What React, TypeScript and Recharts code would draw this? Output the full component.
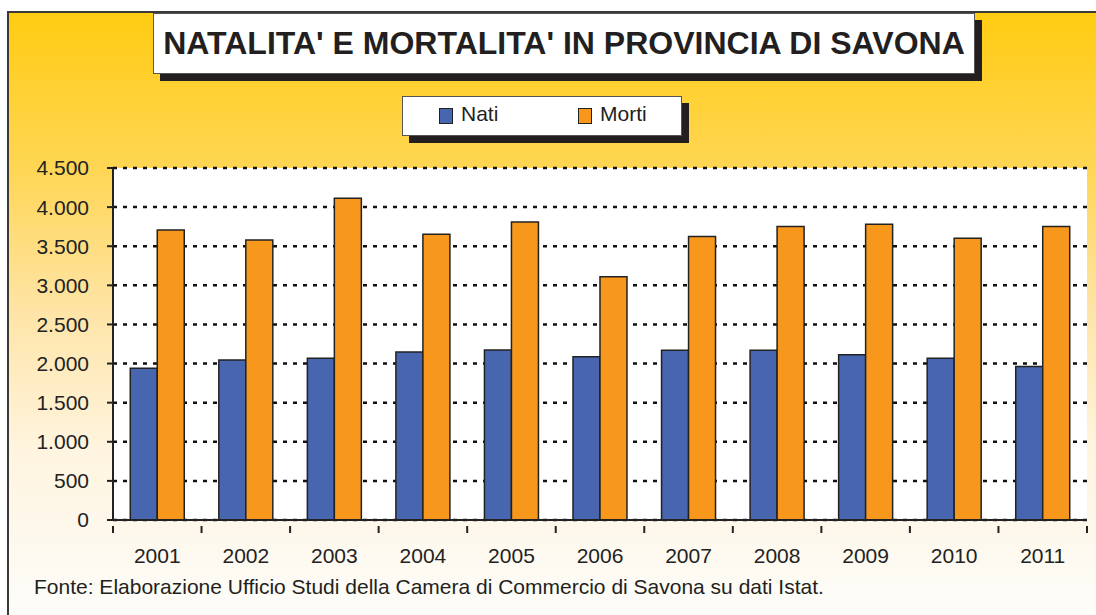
import React from "react";
import { BarChart, Bar, XAxis, YAxis, CartesianGrid } from "recharts";

const years = ["2001", "2002", "2003", "2004", "2005", "2006", "2007", "2008", "2009", "2010", "2011"];
const nati = [1940, 2046, 2067, 2148, 2174, 2088, 2170, 2170, 2114, 2067, 1961];
const morti = [3708, 3580, 4113, 3653, 3810, 3111, 3623, 3751, 3781, 3602, 3751];
const yTicks = [0, 500, 1000, 1500, 2000, 2500, 3000, 3500, 4000, 4500];

const data = years.map((y, i) => ({ year: y, Nati: nati[i], Morti: morti[i] }));

const FONT = '"Liberation Sans", Arial, sans-serif';
const fmt = (v: number) => v.toString().replace(/\B(?=(\d{3})+(?!\d))/g, ".");

const XTick = (props: any) => {
  const { x, y, payload, index } = props;
  const half = payload && payload.offset ? payload.offset : 44.27;
  const axisY = y - 22;
  return (
    <g>
      <line x1={x - half} y1={axisY} x2={x - half} y2={axisY + 7} stroke="#222" strokeWidth={2} />
      {index === years.length - 1 && (
        <line x1={x + half} y1={axisY} x2={x + half} y2={axisY + 7} stroke="#222" strokeWidth={2} />
      )}
      <text x={x} y={y} dy="0.71em" textAnchor="middle" fill="#222" fontSize={21} fontFamily={FONT}>
        {payload.value}
      </text>
    </g>
  );
};

export default function App() {
  return (
    <div style={{ position: "absolute", left: 0, top: 0, width: 1096, height: 615, overflow: "hidden", background: "#fff" }}>
      <div
        style={{
          position: "absolute",
          left: 7,
          top: 11,
          width: 1100,
          height: 620,
          borderLeft: "2px solid #3a3a3a",
          borderTop: "2px solid #3a3a3a",
          background: "linear-gradient(to bottom, #FFCC12 0%, #FFD654 25%, #FEE4A6 48%, #FFF4DE 70%, #FDFCF8 95%)",
        }}
      />
      <div style={{ position: "absolute", left: 0, top: 0 }}>
        <BarChart
          width={1096}
          height={615}
          data={data}
          margin={{ top: 168, right: 9, bottom: 53, left: 0 }}
          barCategoryGap="19.5%"
          barGap={0}
        >
          <CartesianGrid
            vertical={false}
            stroke="#111"
            strokeWidth={2.5}
            strokeDasharray="4 6"
            fill="#ffffff"
            fillOpacity={1}
          />
          <XAxis
            dataKey="year"
            height={42}
            axisLine={{ stroke: "#222", strokeWidth: 2 }}
            tickLine={false}
            tick={<XTick />}
            tickMargin={22}
            interval={0}
          />
          <XAxis xAxisId="top" orientation="top" dataKey="year" height={0} tick={false} tickLine={false} axisLine={{ stroke: "#9a9a9a", strokeWidth: 1 }} />
          <YAxis
            domain={[0, 4500]}
            ticks={yTicks}
            width={113}
            axisLine={{ stroke: "#222", strokeWidth: 2 }}
            tickLine={{ stroke: "#222", strokeWidth: 2 }}
            tickSize={6}
            tickMargin={18}
            tickFormatter={fmt}
            tick={{ fill: "#222", fontSize: 21, fontFamily: FONT }}
            interval={0}
          />
          <YAxis yAxisId="right" orientation="right" domain={[0, 4500]} width={0} tick={false} tickLine={false} axisLine={{ stroke: "#9a9a9a", strokeWidth: 1 }} />
          <Bar dataKey="Nati" fill="#4766AF" stroke="#222" strokeWidth={1.5} isAnimationActive={false} />
          <Bar dataKey="Morti" fill="#F7981D" stroke="#222" strokeWidth={1.5} isAnimationActive={false} />
        </BarChart>
      </div>
      {/* Title */}
      <div style={{ position: "absolute", left: 160, top: 20, width: 822, height: 61, background: "#231f20" }} />
      <div
        style={{
          position: "absolute",
          left: 153,
          top: 13,
          width: 820,
          height: 59,
          background: "#fff",
          border: "1px solid #555",
          display: "flex",
          alignItems: "center",
          justifyContent: "center",
          fontFamily: FONT,
          fontWeight: "bold",
          fontSize: 32,
          color: "#231f20",
          whiteSpace: "nowrap",
        }}
      >
        NATALITA' E MORTALITA' IN PROVINCIA DI SAVONA
      </div>
      {/* Legend */}
      <div style={{ position: "absolute", left: 409, top: 103, width: 280, height: 40, background: "#231f20" }} />
      <div
        style={{
          position: "absolute",
          left: 402,
          top: 96,
          width: 278,
          height: 38,
          background: "#fff",
          border: "1px solid #555",
          fontFamily: FONT,
          fontSize: 21,
          color: "#231f20",
        }}
      >
        <div style={{ position: "absolute", left: 36, top: 11, width: 12, height: 14, background: "#4766AF", border: "1px solid #222" }} />
        <div style={{ position: "absolute", left: 58, top: 5, lineHeight: "24px" }}>Nati</div>
        <div style={{ position: "absolute", left: 175, top: 11, width: 12, height: 14, background: "#F7981D", border: "1px solid #222" }} />
        <div style={{ position: "absolute", left: 197, top: 5, lineHeight: "24px" }}>Morti</div>
      </div>
      {/* Footer */}
      <div
        style={{
          position: "absolute",
          left: 34,
          top: 574,
          fontFamily: FONT,
          fontSize: 21,
          color: "#231f20",
          whiteSpace: "nowrap",
          lineHeight: "26px",
        }}
      >
        Fonte: Elaborazione Ufficio Studi della Camera di Commercio di Savona su dati Istat.
      </div>
    </div>
  );
}
